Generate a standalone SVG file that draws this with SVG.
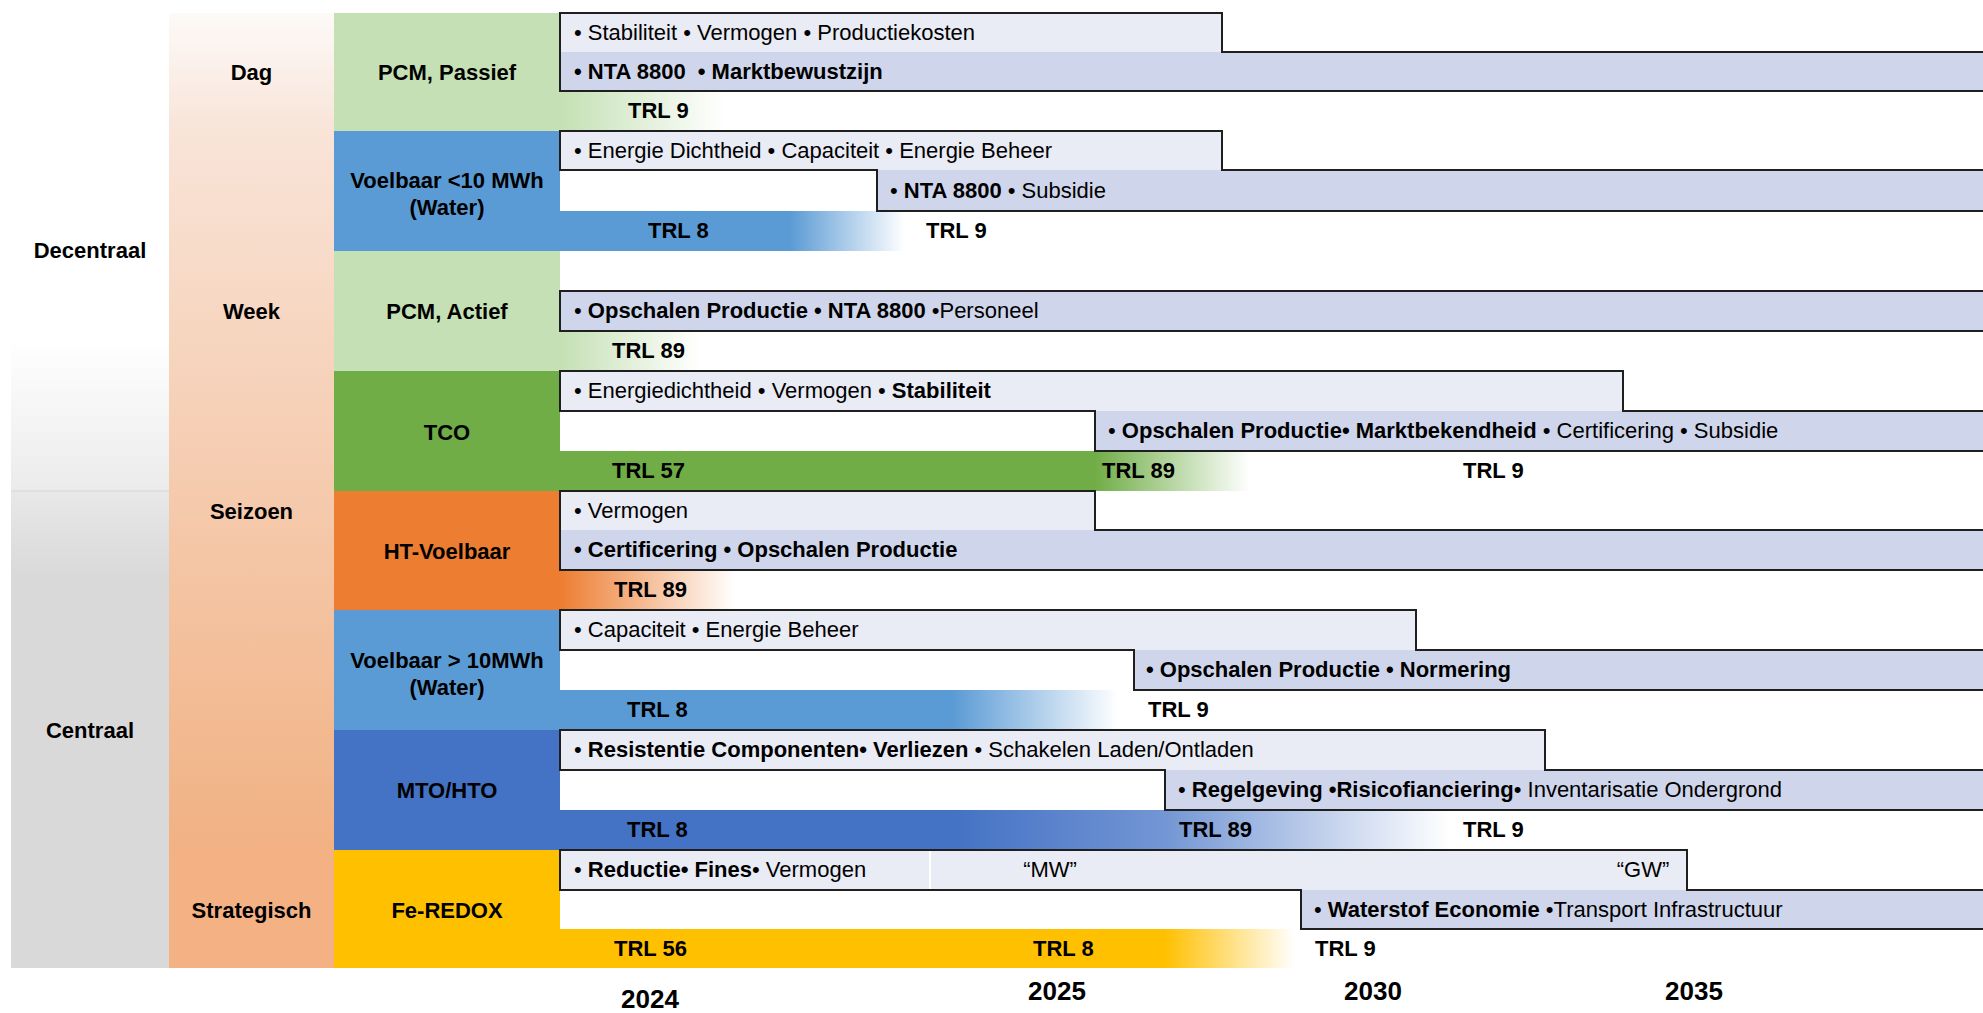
<svg xmlns="http://www.w3.org/2000/svg" width="1983" height="1013" viewBox="0 0 1983 1013">
  <style>
    text { font-family: "Liberation Sans", Arial, sans-serif; font-size: 22px; fill: #000; }
    .b { font-weight: bold; }
    .c { text-anchor: middle; }
    .yr { font-size: 26px; font-weight: bold; text-anchor: middle; }
    .bar1 { fill: #e9ebf5; }
    .bar2 { fill: #cfd5ea; }
    .edge { fill: none; stroke: #1f1f1f; stroke-width: 2; stroke-linejoin: miter; }
  </style>
  <defs>
    <!-- side column shading -->
    <linearGradient id="gDec" x1="0" y1="0" x2="0" y2="1">
      <stop offset="0" stop-color="#ffffff"/>
      <stop offset="0.68" stop-color="#ffffff"/>
      <stop offset="1" stop-color="#ebebeb"/>
    </linearGradient>
    <linearGradient id="gCen" x1="0" y1="0" x2="0" y2="1">
      <stop offset="0" stop-color="#e8e8e8"/>
      <stop offset="0.18" stop-color="#d9d9d9"/>
      <stop offset="1" stop-color="#d9d9d9"/>
    </linearGradient>
    <linearGradient id="gDag" x1="0" y1="0" x2="0" y2="1">
      <stop offset="0" stop-color="#fdfaf8"/>
      <stop offset="1" stop-color="#f8e4d8"/>
    </linearGradient>
    <linearGradient id="gWS" gradientUnits="userSpaceOnUse" x1="0" y1="131" x2="0" y2="850">
      <stop offset="0" stop-color="#f9e4d8"/>
      <stop offset="1" stop-color="#f1b183"/>
    </linearGradient>
    <!-- TRL strips fading out to white -->
    <linearGradient id="s1" gradientUnits="userSpaceOnUse" x1="560" y1="0" x2="725" y2="0">
      <stop offset="0" stop-color="#c5e0b4"/>
      <stop offset="1" stop-color="#ffffff"/>
    </linearGradient>
    <linearGradient id="s2" gradientUnits="userSpaceOnUse" x1="560" y1="0" x2="905" y2="0">
      <stop offset="0" stop-color="#5b9bd5"/>
      <stop offset="0.667" stop-color="#5b9bd5"/>
      <stop offset="1" stop-color="#ffffff"/>
    </linearGradient>
    <linearGradient id="s3" gradientUnits="userSpaceOnUse" x1="560" y1="0" x2="700" y2="0">
      <stop offset="0" stop-color="#c5e0b4"/>
      <stop offset="1" stop-color="#ffffff"/>
    </linearGradient>
    <linearGradient id="s4" gradientUnits="userSpaceOnUse" x1="560" y1="0" x2="1250" y2="0">
      <stop offset="0" stop-color="#70ad47"/>
      <stop offset="0.775" stop-color="#70ad47"/>
      <stop offset="1" stop-color="#ffffff"/>
    </linearGradient>
    <linearGradient id="s5" gradientUnits="userSpaceOnUse" x1="560" y1="0" x2="735" y2="0">
      <stop offset="0" stop-color="#ed7d31"/>
      <stop offset="1" stop-color="#ffffff"/>
    </linearGradient>
    <linearGradient id="s6" gradientUnits="userSpaceOnUse" x1="560" y1="0" x2="1118" y2="0">
      <stop offset="0" stop-color="#5b9bd5"/>
      <stop offset="0.704" stop-color="#5b9bd5"/>
      <stop offset="1" stop-color="#ffffff"/>
    </linearGradient>
    <linearGradient id="s7" gradientUnits="userSpaceOnUse" x1="560" y1="0" x2="1450" y2="0">
      <stop offset="0" stop-color="#4472c4"/>
      <stop offset="0.442" stop-color="#4472c4"/>
      <stop offset="0.68" stop-color="#7396d4"/>
      <stop offset="1" stop-color="#ffffff"/>
    </linearGradient>
    <linearGradient id="s8" gradientUnits="userSpaceOnUse" x1="560" y1="0" x2="1295" y2="0">
      <stop offset="0" stop-color="#ffc000"/>
      <stop offset="0.822" stop-color="#ffc000"/>
      <stop offset="1" stop-color="#ffffff"/>
    </linearGradient>
  </defs>

  <rect width="1983" height="1013" fill="#ffffff"/>

  <!-- scale column -->
  <g id="decentraal">
    <rect x="11" y="13" width="158" height="478" fill="url(#gDec)"/>
    <text class="b c" x="90" y="258">Decentraal</text>
  </g>
  <g id="centraal">
    <rect x="11" y="491" width="158" height="477" fill="url(#gCen)"/>
    <line x1="11" y1="491" x2="169" y2="491" stroke="#dcdcdc" stroke-width="1.5"/>
    <text class="b c" x="90" y="738">Centraal</text>
  </g>

  <!-- duration column -->
  <g id="dag">
    <rect x="169" y="13" width="165" height="118" fill="url(#gDag)"/>
    <text class="b c" x="251.5" y="80">Dag</text>
  </g>
  <g id="week">
    <rect x="169" y="131" width="165" height="360" fill="url(#gWS)"/>
    <text class="b c" x="251.5" y="319">Week</text>
  </g>
  <g id="seizoen">
    <rect x="169" y="491" width="165" height="359" fill="url(#gWS)"/>
    <text class="b c" x="251.5" y="519">Seizoen</text>
  </g>
  <g id="strategisch">
    <rect x="169" y="850" width="165" height="118" fill="#f4b183"/>
    <text class="b c" x="251.5" y="918">Strategisch</text>
  </g>

  <!-- technology column -->
  <g id="pcm-passief">
    <rect x="334" y="13" width="226" height="118" fill="#c5e0b4"/>
    <text class="b c" x="447" y="80">PCM, Passief</text>
  </g>
  <g id="voelbaar-klein">
    <rect x="334" y="131" width="226" height="120" fill="#5b9bd5"/>
    <text class="b c" x="447" y="188">Voelbaar &lt;10 MWh</text>
    <text class="b c" x="447" y="215">(Water)</text>
  </g>
  <g id="pcm-actief">
    <rect x="334" y="251" width="226" height="120" fill="#c5e0b4"/>
    <text class="b c" x="447" y="319">PCM, Actief</text>
  </g>
  <g id="tco">
    <rect x="334" y="371" width="226" height="120" fill="#70ad47"/>
    <text class="b c" x="447" y="440">TCO</text>
  </g>
  <g id="ht-voelbaar">
    <rect x="334" y="491" width="226" height="119" fill="#ed7d31"/>
    <text class="b c" x="447" y="559">HT-Voelbaar</text>
  </g>
  <g id="voelbaar-groot">
    <rect x="334" y="610" width="226" height="120" fill="#5b9bd5"/>
    <text class="b c" x="447" y="668">Voelbaar &gt; 10MWh</text>
    <text class="b c" x="447" y="695">(Water)</text>
  </g>
  <g id="mto-hto">
    <rect x="334" y="730" width="226" height="120" fill="#4472c4"/>
    <text class="b c" x="447" y="798">MTO/HTO</text>
  </g>
  <g id="fe-redox">
    <rect x="334" y="850" width="226" height="118" fill="#ffc000"/>
    <text class="b c" x="447" y="918">Fe-REDOX</text>
  </g>

  <!-- roadmap rows: stepped bars, outlines run off the right edge -->
  <g id="row-pcm-passief">
    <rect x="560" y="91" width="170" height="40" fill="url(#s1)"/>
    <rect class="bar1" x="560" y="13" width="662" height="39"/>
    <rect class="bar2" x="560" y="52" width="1430" height="39"/>
    <path class="edge" d="M560,13 H1222 V52 H1990 V91 H560 Z"/>
    <text x="574" y="40">• Stabiliteit • Vermogen • Productiekosten</text>
    <text class="b" x="574" y="79">• NTA 8800 <tspan dx="6">• Marktbewustzijn</tspan></text>
    <text class="b" x="628" y="118">TRL 9</text>
  </g>

  <g id="row-voelbaar-klein">
    <rect x="560" y="211" width="345" height="40" fill="url(#s2)"/>
    <rect class="bar1" x="560" y="131" width="662" height="39"/>
    <rect class="bar2" x="877" y="170" width="1113" height="41"/>
    <path class="edge" d="M560,131 H1222 V170 H1990 V211 H877 V170 H560 Z"/>
    <text x="574" y="158">• Energie Dichtheid • Capaciteit • Energie Beheer</text>
    <text x="890" y="198">• <tspan class="b">NTA 8800</tspan> • Subsidie</text>
    <text class="b" x="648" y="238">TRL 8</text>
    <text class="b" x="926" y="238">TRL 9</text>
  </g>

  <g id="row-pcm-actief">
    <rect x="560" y="331" width="140" height="40" fill="url(#s3)"/>
    <rect class="bar2" x="560" y="291" width="1430" height="40"/>
    <path class="edge" d="M560,291 H1990 V331 H560 Z"/>
    <text x="574" y="318">• <tspan class="b">Opschalen Productie • NTA 8800</tspan> •Personeel</text>
    <text class="b" x="612" y="358">TRL 89</text>
  </g>

  <g id="row-tco">
    <rect x="560" y="451" width="690" height="40" fill="url(#s4)"/>
    <rect class="bar1" x="560" y="371" width="1063" height="40"/>
    <rect class="bar2" x="1095" y="411" width="895" height="40"/>
    <path class="edge" d="M560,371 H1623 V411 H1990 V451 H1095 V411 H560 Z"/>
    <text x="574" y="398">• Energiedichtheid • Vermogen • <tspan class="b">Stabiliteit</tspan></text>
    <text x="1108" y="438">• <tspan class="b">Opschalen Productie• Marktbekendheid</tspan> • Certificering • Subsidie</text>
    <text class="b" x="612" y="478">TRL 57</text>
    <text class="b" x="1102" y="478">TRL 89</text>
    <text class="b" x="1463" y="478">TRL 9</text>
  </g>

  <g id="row-ht-voelbaar">
    <rect x="560" y="570" width="175" height="40" fill="url(#s5)"/>
    <rect class="bar1" x="560" y="491" width="535" height="39"/>
    <rect class="bar2" x="560" y="530" width="1430" height="40"/>
    <path class="edge" d="M560,491 H1095 V530 H1990 V570 H560 Z"/>
    <text x="574" y="518">• Vermogen</text>
    <text class="b" x="574" y="557">• Certificering • Opschalen Productie</text>
    <text class="b" x="614" y="597">TRL 89</text>
  </g>

  <g id="row-voelbaar-groot">
    <rect x="560" y="690" width="558" height="40" fill="url(#s6)"/>
    <rect class="bar1" x="560" y="610" width="856" height="40"/>
    <rect class="bar2" x="1134" y="650" width="856" height="40"/>
    <path class="edge" d="M560,610 H1416 V650 H1990 V690 H1134 V650 H560 Z"/>
    <text x="574" y="637">• Capaciteit • Energie Beheer</text>
    <text class="b" x="1146" y="677">• Opschalen Productie • Normering</text>
    <text class="b" x="627" y="717">TRL 8</text>
    <text class="b" x="1148" y="717">TRL 9</text>
  </g>

  <g id="row-mto-hto">
    <rect x="560" y="810" width="890" height="40" fill="url(#s7)"/>
    <rect class="bar1" x="560" y="730" width="985" height="40"/>
    <rect class="bar2" x="1165" y="770" width="825" height="40"/>
    <path class="edge" d="M560,730 H1545 V770 H1990 V810 H1165 V770 H560 Z"/>
    <text x="574" y="757">• <tspan class="b">Resistentie Componenten• Verliezen</tspan> • Schakelen Laden/Ontladen</text>
    <text x="1178" y="797">• <tspan class="b">Regelgeving •Risicofianciering</tspan>• Inventarisatie Ondergrond</text>
    <text class="b" x="627" y="837">TRL 8</text>
    <text class="b" x="1179" y="837">TRL 89</text>
    <text class="b" x="1463" y="837">TRL 9</text>
  </g>

  <g id="row-fe-redox">
    <rect x="560" y="929" width="735" height="39" fill="url(#s8)"/>
    <rect class="bar1" x="560" y="850" width="1127" height="40"/>
    <line x1="930" y1="851" x2="930" y2="889" stroke="#ffffff" stroke-width="2"/>
    <rect class="bar2" x="1301" y="890" width="689" height="39"/>
    <path class="edge" d="M560,850 H1687 V890 H1990 V929 H1301 V890 H560 Z"/>
    <text x="574" y="877">• <tspan class="b">Reductie• Fines</tspan>• Vermogen</text>
    <text class="c" x="1050" y="877">“MW”</text>
    <text class="c" x="1643" y="877">“GW”</text>
    <text x="1314" y="917">• <tspan class="b">Waterstof Economie</tspan> •Transport Infrastructuur</text>
    <text class="b" x="614" y="956">TRL 56</text>
    <text class="b" x="1033" y="956">TRL 8</text>
    <text class="b" x="1315" y="956">TRL 9</text>
  </g>

  <!-- time axis -->
  <g id="years">
    <text class="yr" x="650" y="1008">2024</text>
    <text class="yr" x="1057" y="1000">2025</text>
    <text class="yr" x="1373" y="1000">2030</text>
    <text class="yr" x="1694" y="1000">2035</text>
  </g>
</svg>
